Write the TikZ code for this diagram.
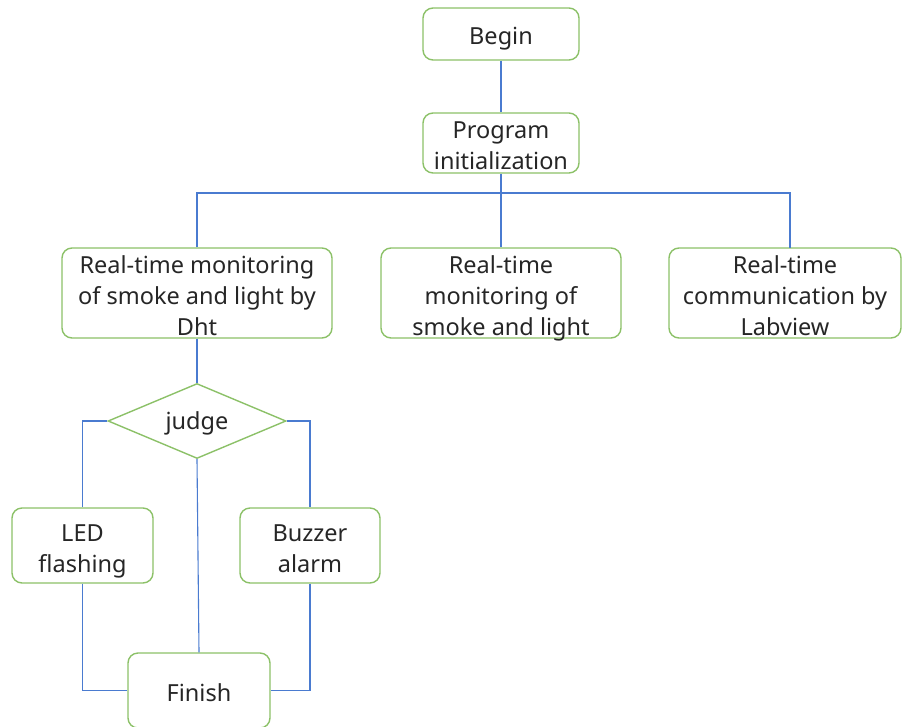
\documentclass[tikz,border=0pt]{standalone}
\usepackage{fontspec}
\setmainfont{Noto Sans}
\usetikzlibrary{shapes.geometric}
\definecolor{boxgreen}{HTML}{8CC168}
\definecolor{linkblue}{HTML}{4A7BD0}
\definecolor{txt}{HTML}{262626}
\tikzset{
  stepbox/.style={draw=boxgreen, line width=1.4pt, rounded corners=10pt, fill=white, inner sep=0pt},
  decide/.style={draw=boxgreen, line width=1.4pt, diamond, shape aspect=2.4, fill=white, inner sep=0pt},
  lbl/.style={align=center, inner sep=0pt, text=txt, text depth=0pt, yshift=-3pt,
    font=\fontsize{23.5}{31}\selectfont},
  link/.style={draw=linkblue, line width=1.1pt}
}
\begin{document}
\begin{tikzpicture}[x=1pt,y=-1pt]
\useasboundingbox (0,0) rectangle (902,726);
\coordinate (hub) at (501,193);
\node[stepbox, minimum width=156pt, minimum height=52pt] (begin) at (501,34) {};
\node[lbl, yshift=1pt] (begin-t) at (begin) {Begin};
\node[stepbox, minimum width=156pt, minimum height=60pt] (init) at (501,143) {};
\node[lbl] (init-t) at (init) {Program\\initialization};
\node[stepbox, minimum width=270pt, minimum height=90pt] (left) at (197,293) {};
\node[lbl] (left-t) at (left) {Real-time monitoring\\of smoke and light by\\Dht};
\node[stepbox, minimum width=240pt, minimum height=90pt] (mid) at (501,293) {};
\node[lbl] (mid-t) at (mid) {Real-time\\monitoring of\\smoke and light};
\node[stepbox, minimum width=232pt, minimum height=90pt] (right) at (785,293) {};
\node[lbl] (right-t) at (right) {Real-time\\communication by\\Labview};
\coordinate (rtop) at (790,248);
\node[decide, minimum width=178pt, minimum height=75pt] (judge) at (197,421) {};
\node[lbl, yshift=3pt] (judge-t) at (judge) {judge};
\node[stepbox, minimum width=141pt, minimum height=75pt] (led) at (82.5,545.5) {};
\node[lbl] (led-t) at (led) {LED\\flashing};
\node[stepbox, minimum width=140pt, minimum height=75pt] (buzz) at (310,545.5) {};
\node[lbl] (buzz-t) at (buzz) {Buzzer\\alarm};
\node[stepbox, minimum width=142pt, minimum height=75pt] (finish) at (199,690.5) {};
\node[lbl, yshift=1pt] (finish-t) at (finish) {Finish};
\draw[link] (begin) -- (init);
\draw[link] (init) -- (mid);
\draw[link] (left.north) |- (hub) -| (rtop);
\draw[link] (left) -- (judge);
\draw[link] (judge.west) -| (led.north);
\draw[link] (judge.east) -| (buzz.north);
\draw[link] (judge.south) -- (finish.north);
\draw[link] (led.south) |- (finish.west);
\draw[link] (buzz.south) |- (finish.east);
\end{tikzpicture}
\end{document}
